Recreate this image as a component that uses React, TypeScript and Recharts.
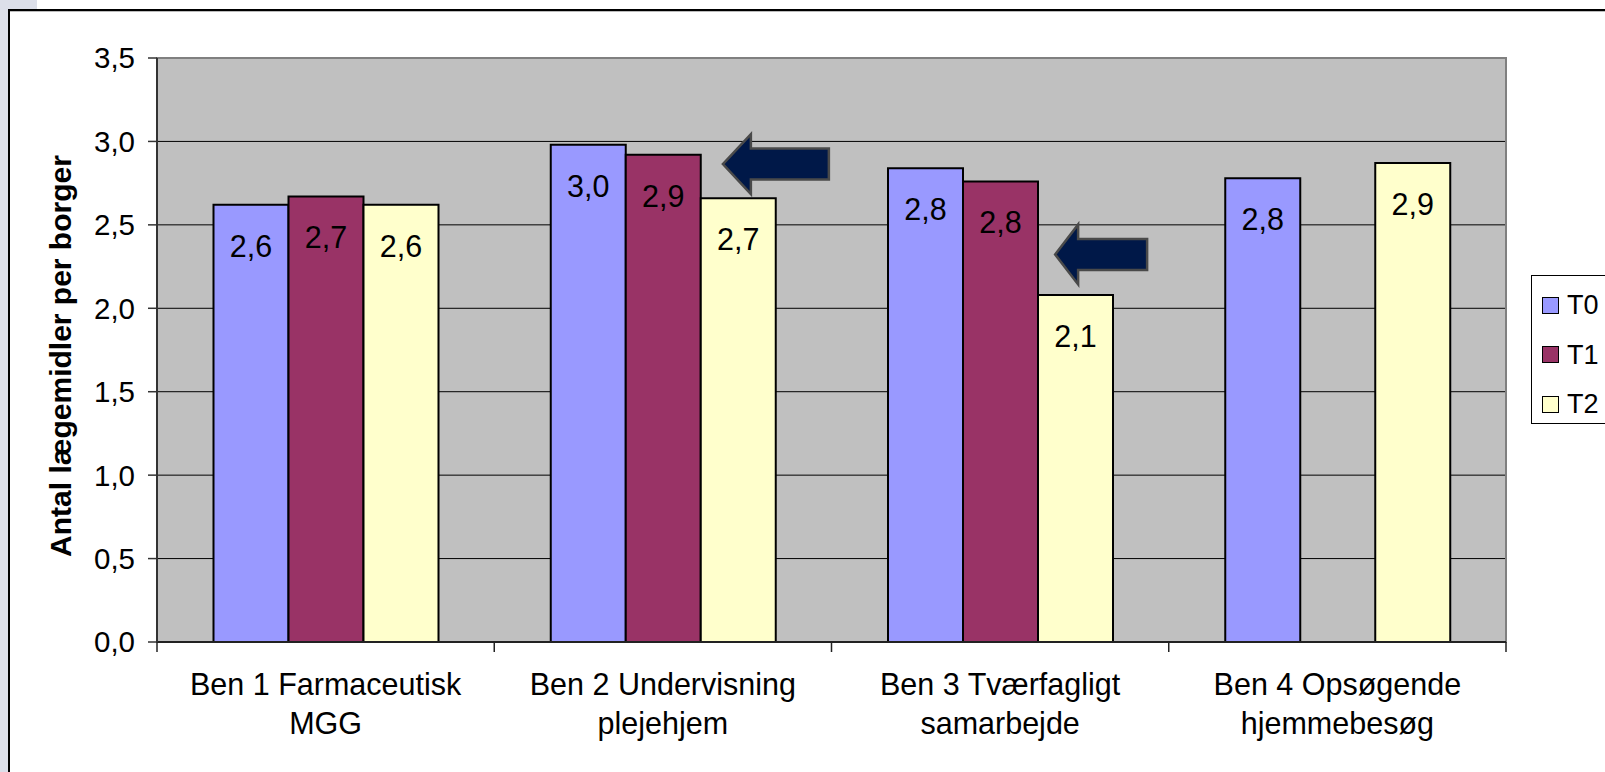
import { BarChart, Bar, XAxis, YAxis, CartesianGrid, Legend, LabelList, ReferenceArea, ReferenceDot, Label } from 'recharts';

const categories = [
  'Ben 1 Farmaceutisk\nMGG',
  'Ben 2 Undervisning\nplejehjem',
  'Ben 3 Tværfagligt\nsamarbejde',
  'Ben 4 Opsøgende\nhjemmebesøg',
];
const t0Values = [2.62, 2.98, 2.84, 2.78];
const t1Values = [2.67, 2.92, 2.76, null];
const t2Values = [2.62, 2.66, 2.08, 2.87];
const seriesNames = ['T0', 'T1', 'T2'];
const seriesColors = ['#9999ff', '#993366', '#ffffcc'];
const yTicks = [0, 0.5, 1, 1.5, 2, 2.5, 3, 3.5];
const yLabel = 'Antal lægemidler per borger';
// arrows pointing at T1 of Ben 2 and T2 of Ben 3
const arrowTargets = [
  { category: categories[1], value: 2.864 },
  { category: categories[2], value: 2.323 },
];

const data = categories.map((category, i) => ({
  category,
  T0: t0Values[i],
  T1: t1Values[i],
  T2: t2Values[i],
}));

const FONT = '"Liberation Sans", Arial, sans-serif';
const fmt = (v: number) => v.toFixed(1).replace('.', ',');

const CategoryTick = (props: any) => {
  const { x, y, payload, index } = props;
  const half = payload.offset || 168.6;
  const lines = String(payload.value).split('\n');
  return (
    <g>
      <line x1={x - half} x2={x - half} y1={y} y2={y + 10} stroke="#222" strokeWidth={1.5} />
      {index === categories.length - 1 && (
        <line x1={x + half} x2={x + half} y1={y} y2={y + 10} stroke="#222" strokeWidth={1.5} />
      )}
      <text x={x} y={y + 53} textAnchor="middle" fontSize={30.5} fontFamily={FONT} fill="#000">
        {lines.map((l, i) => (
          <tspan key={i} x={x} dy={i === 0 ? 0 : 39}>{l}</tspan>
        ))}
      </text>
    </g>
  );
};

const ValueLabel = (props: any) => {
  const { x, y, width, value } = props;
  if (value == null) return null;
  return (
    <text x={x + width / 2} y={y + 41} textAnchor="middle" dominantBaseline="central" fontSize={30.5} fontFamily={FONT} fill="#000">
      {fmt(value)}
    </text>
  );
};

const Arrow = (props: any) => {
  const { cx, cy, dx, len, head } = props;
  const tx = cx + dx;
  const hh = 30;
  const sh = 15.5;
  const pts = [
    [tx, cy], [tx + head, cy - hh], [tx + head, cy - sh], [tx + len, cy - sh],
    [tx + len, cy + sh], [tx + head, cy + sh], [tx + head, cy + hh],
  ].map((p) => p.join(',')).join(' ');
  return <polygon points={pts} fill="#001848" stroke="#4a4a4a" strokeWidth={2.5} strokeLinejoin="miter" />;
};

const LegendBox = (props: any) => {
  const payload = props.payload || [];
  return (
    <div style={{ position: 'absolute', left: 0, top: 0, width: 110, height: 147, border: '1px solid #000', background: '#fff', fontFamily: FONT }}>
      {payload.map((item: any, i: number) => (
        <div key={item.value} style={{ position: 'absolute', left: 10, top: 20 + i * 49.5, height: 18, display: 'flex', alignItems: 'center' }}>
          <div style={{ width: 15, height: 15, background: item.color, border: '1.5px solid #000' }} />
          <span style={{ marginLeft: 8, fontSize: 27, color: '#000', lineHeight: '18px' }}>{item.value}</span>
        </div>
      ))}
    </div>
  );
};

export default function App() {
  return (
    <div style={{ position: 'absolute', left: 0, top: 0, width: 1605, height: 772, background: '#fff', overflow: 'hidden', fontFamily: FONT }}>
      <div style={{ position: 'absolute', left: 0, top: 0, width: 37, height: 9, background: '#dcdfe9' }} />
      <div style={{ position: 'absolute', left: 0, top: 0, width: 8, height: 772, background: '#dcdfe9' }} />
      <div style={{ position: 'absolute', left: 8, top: 9, width: 1650, height: 820, borderTop: '2px solid #000', borderLeft: '2px solid #000', boxShadow: 'inset 0 1px 0 #bbb' }} />
      <div style={{ position: 'absolute', left: 0, top: 0 }}>
        <BarChart
          width={1605}
          height={772}
          data={data}
          margin={{ top: 58, right: 99, bottom: 30, left: 77 }}
          barCategoryGap={56.5}
          barGap={0}
        >
          <CartesianGrid horizontal vertical={false} stroke="#000" strokeWidth={1} fill="#c0c0c0" fillOpacity={1} />
          <ReferenceArea y1={0} y2={3.5} fill="none" stroke="#808080" strokeWidth={2} ifOverflow="visible" />
          <XAxis
            dataKey="category"
            height={100}
            interval={0}
            tickLine={false}
            tickSize={0}
            tickMargin={0}
            axisLine={{ stroke: '#222', strokeWidth: 2 }}
            tick={<CategoryTick />}
          />
          <YAxis
            width={80}
            domain={[0, 3.5]}
            ticks={yTicks}
            interval={0}
            tickFormatter={fmt}
            tickSize={9}
            tickMargin={13}
            tick={{ fontSize: 29.5, fill: '#000', fontFamily: FONT }}
            axisLine={{ stroke: '#333', strokeWidth: 2 }}
            tickLine={{ stroke: '#333', strokeWidth: 1.5 }}
          >
            <Label
              content={(p: any) => {
                const vb = p.viewBox || { y: 58, height: 584 };
                const cy = vb.y + vb.height / 2 + 6;
                return (
                  <text x={60} y={cy} transform={`rotate(-90 60 ${cy})`} textAnchor="middle" dominantBaseline="central" fontSize={30} fontWeight="bold" fontFamily={FONT} fill="#000">
                    {yLabel}
                  </text>
                );
              }}
            />
          </YAxis>
          <Legend
            content={<LegendBox />}
            wrapperStyle={{ position: 'absolute', left: 1531, top: 275, width: 0, height: 0, overflow: 'visible' }}
          />
          {seriesNames.map((name, i) => (
            <Bar key={name} dataKey={name} name={name} fill={seriesColors[i]} stroke="#000" strokeWidth={2} isAnimationActive={false}>
              <LabelList dataKey={name} content={<ValueLabel />} />
            </Bar>
          ))}
          <ReferenceDot x={arrowTargets[0].category} y={arrowTargets[0].value} r={0} ifOverflow="visible"
            shape={(p: any) => <Arrow cx={p.cx} cy={p.cy} dx={60} len={106} head={28} />} />
          <ReferenceDot x={arrowTargets[1].category} y={arrowTargets[1].value} r={0} ifOverflow="visible"
            shape={(p: any) => <Arrow cx={p.cx} cy={p.cy} dx={55} len={92} head={23} />} />
        </BarChart>
      </div>
    </div>
  );
}
